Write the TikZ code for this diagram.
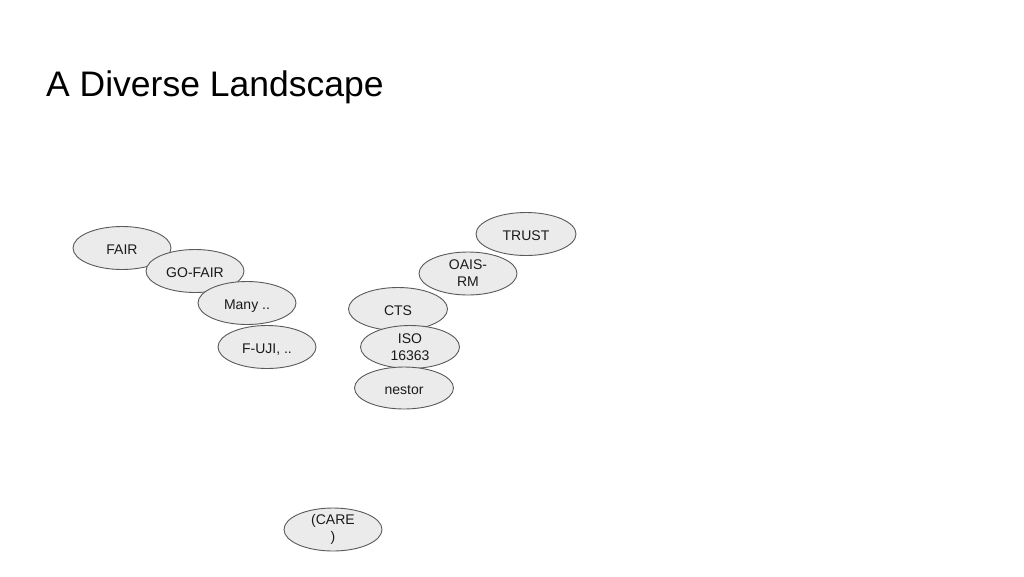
\documentclass[tikz,border=0pt]{standalone}
\usepackage{fontspec}
\setmainfont{Liberation Sans}
\usetikzlibrary{shapes.geometric}
\definecolor{ellfill}{HTML}{EBEBEB}
\definecolor{ellline}{HTML}{5A5A5A}
\definecolor{txt}{HTML}{1A1A1A}
\tikzset{
  oval/.style={ellipse, draw=ellline, fill=ellfill, line width=0.9pt,
    minimum width=98pt, minimum height=43pt, inner sep=0pt, align=center,
    text=txt, font=\fontsize{14}{17}\selectfont},
  oneline/.style={text height=13pt, text depth=0pt}
}
\begin{document}
\begin{tikzpicture}[x=1pt,y=-1pt]
\useasboundingbox (0,0) rectangle (1024,576);
\node[anchor=base west, inner sep=0pt, font=\fontsize{35.5}{40}\selectfont] (title) at (46,96) {A Diverse Landscape};
% left chain
\node[oval, oneline] (fair) at (122,248) {FAIR};
\node[oval, oneline] (gofair) at (195,271) {GO-FAIR};
\node[oval, oneline] (many) at (247,303) {Many ..};
\node[oval, oneline] (fuji) at (267,347) {F-UJI, ..};
% right chain
\node[oval, oneline, minimum width=100pt] (trust) at (526,234) {TRUST};
\node[oval] (oais) at (468,273.5) {OAIS-\\RM};
\node[oval, oneline, minimum width=99pt] (cts) at (398,309) {CTS};
\node[oval, minimum width=99pt] (iso) at (410,347) {ISO\\16363};
\node[oval, oneline, minimum width=99pt, minimum height=42pt] (nestor) at (404,388) {nestor};
% bottom
\node[oval] (care) at (333,529.5) {(CARE\\)};
\end{tikzpicture}
\end{document}
